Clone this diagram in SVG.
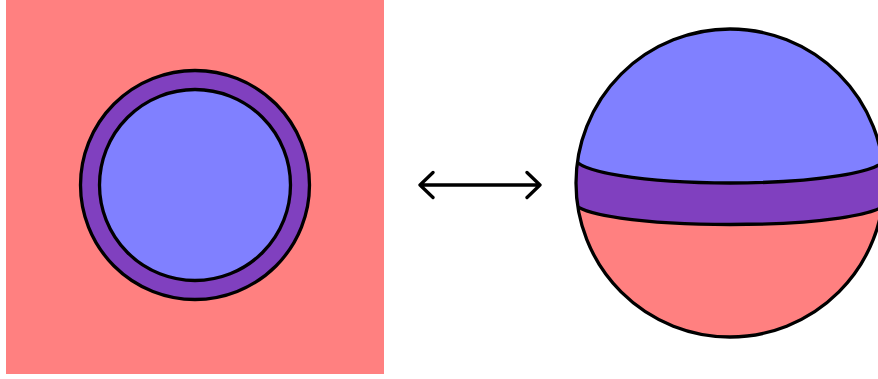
<svg xmlns="http://www.w3.org/2000/svg" width="878" height="379" viewBox="0 0 878 379">
  <style>
    .pink { fill: #FF8080; }
    .blue { fill: #8080FF; }
    .purple { fill: #8040BF; }
    .ln { fill: none; stroke: #000; stroke-width: 3.3; stroke-linecap: round; stroke-linejoin: round; }
    .outlined { stroke: #000; stroke-width: 3.3; }
  </style>
  <defs>
    <clipPath id="sphereClip">
      <circle cx="730" cy="183" r="154"/>
    </clipPath>
  </defs>
  <rect width="878" height="379" fill="#fff"/>

  <g id="flat">
    <rect class="pink" x="6" y="0" width="378" height="374"/>
    <circle class="purple outlined" cx="195" cy="185" r="114.5"/>
    <circle class="blue outlined" cx="195" cy="185" r="95.5"/>
  </g>

  <g id="connectors">
    <path class="ln" d="M420 185 L540 185 M433 172.5 L420 185 L433 197.5 M527 172.5 L540 185 L527 197.5"/>
  </g>

  <g id="sphere">
    <g clip-path="url(#sphereClip)">
      <rect class="pink" x="570" y="20" width="320" height="330"/>
      <path class="purple" d="M575 202.5 A155 22 0 0 0 885 202.5 L885 20 L575 20 Z"/>
      <path class="blue" d="M575 158 A155 25 0 0 0 885 158 L885 20 L575 20 Z"/>
      <path class="ln" d="M575 202.5 A155 22 0 0 0 885 202.5"/>
      <path class="ln" d="M575 158 A155 25 0 0 0 885 158"/>
    </g>
    <circle class="ln" cx="730" cy="183" r="154"/>
  </g>
</svg>
